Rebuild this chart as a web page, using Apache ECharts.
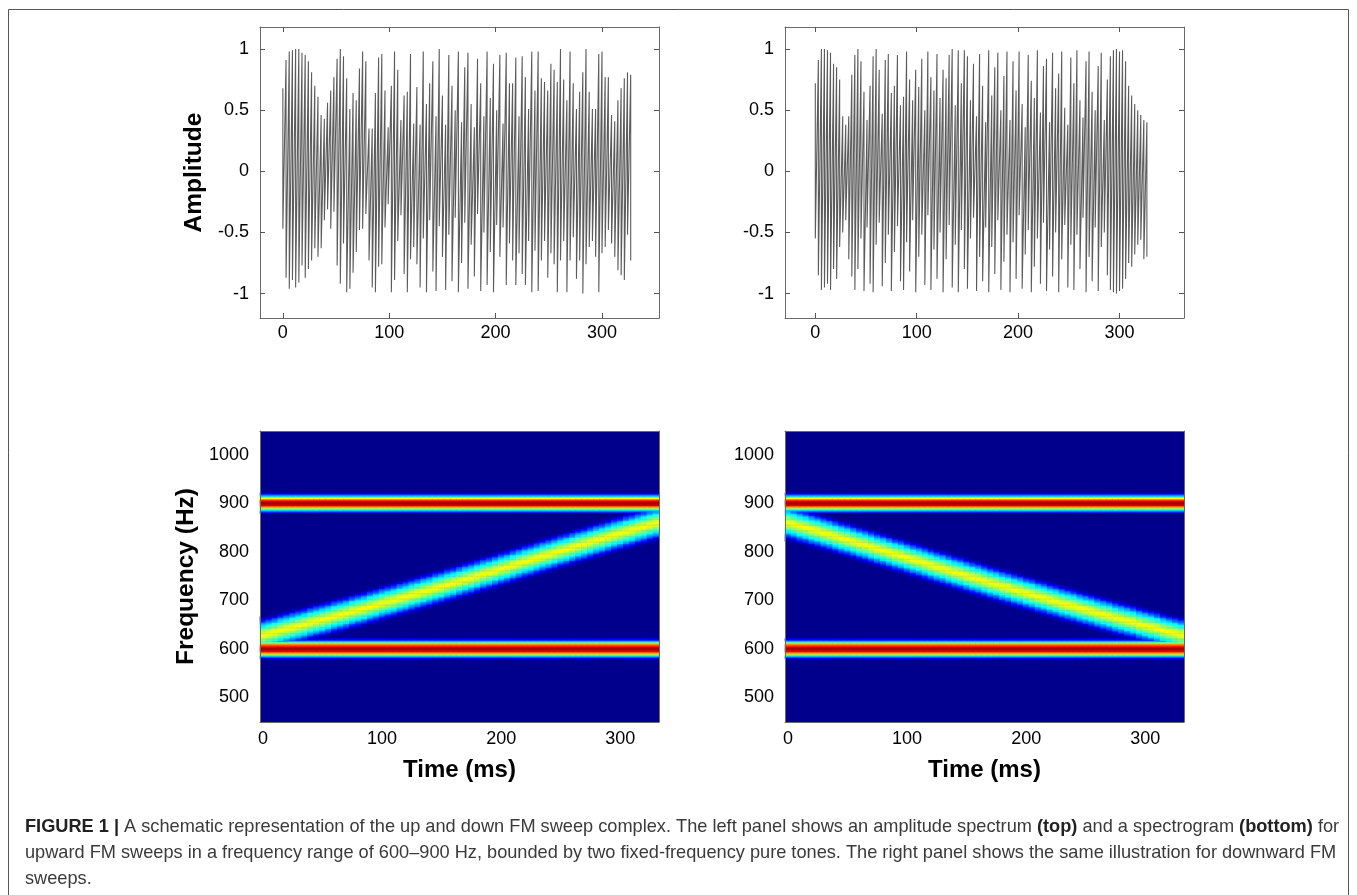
<!DOCTYPE html>
<html>
<head>
<meta charset="utf-8">
<title>FM sweep complex</title>
<script src="https://cdn.jsdelivr.net/npm/echarts@6/dist/echarts.min.js"></script>
<style>
  html, body { margin: 0; padding: 0; background: #fff; }
  #chart { width: 1357px; height: 895px; }
</style>
</head>
<body>
<div id="chart"></div>
<script>
// waveform: sample time (ms) of each swing, then the top and bottom of the swing
const peakTimes = [0,3,6,9,12,15,18,21,24,27,30,33,36,39,42,45,48,51,54,57,60,63,66,69,72,75,78,81,84,87,90,93,96,99,102,105,108,111,114,117,120,123,126,129,132,135,138,141,144,147,150,153,156,159,162,165,168,171,174,177,180,183,186,189,192,195,198,201,204,207,210,213,216,219,222,225,228,231,234,237,240,243,246,249,252,255,258,261,264,267,270,273,276,279,282,285,288,291,294,297,300,303,306,309,312,315,318,321,324,327];

const upTop = [.68,.91,.98,.99,1,1,.97,.95,.90,.81,.70,.61,.46,.43,.56,.66,.77,.92,1,.94,.76,.51,.64,.58,.84,.98,.90,.35,.35,.64,.93,.96,.66,.36,.70,.98,.83,.42,.62,.65,.96,.39,.69,
  .38,.98,.55,.72,.90,.45,1,.62,.38,.95,.70,.50,.98,.40,.85,.97,.55,.36,.92,.72,.45,.98,.60,.88,.50,
  .95,.39,.97,.72,.72,.93,.45,.94,.77,.51,.98,.66,.98,.76,.73,.66,.88,.83,.73,1,.75,.58,.98,.72,.51,.65,.81,1,.65,.51,.51,.96,.98,.77,.77,.46,.41,.58,.68,.76,.81,.79];
const upBottom = [-.47,-.87,-.96,-.89,-.95,-.91,-.77,-.87,-.80,-.73,-.63,-.70,-.63,-.40,-.31,-.47,-.33,-.77,-.92,-.59,-.99,-.96,-.83,-.66,-.48,-.47,-.35,-.73,-.95,-.99,-.78,-.76,-.46,-.27,-.99,-.89,-.57,-.36,-.84,-.99,-.72,-.62,-.76,
  -.95,-.55,-.99,-.40,-.82,-.98,-.45,-.70,-.97,-.52,-.90,-.38,-.99,-.75,-.42,-.96,-.60,-.86,-.35,-.98,-.50,-.93,-.66,-.99,-.44,
  -.70,-.46,-.93,-.59,-.73,-.93,-.67,-.84,-.93,-.57,-.99,-.65,-.98,-.73,-.57,-.87,-.67,-.76,-.99,-.73,-.57,-.99,-.73,-.54,-.88,-.73,-1,-.76,-.62,-.57,-.70,-.99,-.67,-.62,-.48,-.59,-.70,-.81,-.85,-.89,-.52,-.73];

const downTop = [.72,.91,1,1,.99,.97,.88,.85,.75,.45,.38,.45,.79,.95,1,.90,.65,.42,.70,.94,1,.83,.47,.91,.96,.64,.70,.95,.54,.61,.98,.75,.58,.83,.69,.92,.50,.98,.77,.66,.96,.60,.83,.76,.95,1,.54,.99,.72,.99,.94,.58,
  .88,.45,.96,.70,.40,.99,.62,.85,.97,.50,.78,.98,.42,.90,.66,.98,.55,.36,.95,.74,.60,.99,.48,.86,.92,.40,.97,.68,.80,.98,.52,.38,.93,.72,.99,.58,.44,.90,.98,.65,.50,.86,.97,.42,.75,.94,.99,1,.98,.99,.90,.70,.62,.55,.50,.46,.42,.40];
const downBottom = [-.55,-.85,-.97,-.95,-.92,-.97,-.80,-.88,-.62,-.50,-.40,-.72,-.86,-.97,-.80,-.55,-.98,-.46,-.92,-.99,-.60,-.42,-.94,-.75,-.52,-.98,-.66,-.45,-.90,-.97,-.58,-.82,-.40,-.99,-.70,-.52,-.93,-.36,-.97,-.64,-.88,-.50,-.99,-.72,
  -.44,-.95,-.60,-.99,-.48,-.80,-.96,-.55,-.38,-.98,-.70,-.90,-.46,-.99,-.62,-.84,-.40,-.97,-.74,-.52,-.99,-.58,-.88,-.36,-.96,-.68,-.48,-.99,-.78,-.55,-.92,-.42,-.98,-.64,-.86,-.50,-.99,-.72,-.44,-.95,-.60,-.97,-.52,-.80,-.38,-.99,-.70,-.90,-.46,-.98,-.62,-.50,-.85,-.97,-.99,-1,-.98,-.96,-.88,-.75,-.78,-.68,-.60,-.56,-.72,-.70];

// spectrogram: sweep centre (Hz) for each 5 ms column
const sweepUp = [628,631,634,638,641,644,647,650,654,657,660,663,667,670,673,677,680,683,687,690,694,697,700,704,707,711,714,718,721,725,728,732,735,739,743,746,750,754,757,761,765,768,772,776,780,783,787,791,794,798,802,805,809,813,816,820,824,827,831,835,838,842,845,849,852,856,859];
const sweepDown = [860,857,853,850,846,843,839,836,832,828,825,821,817,814,810,806,803,799,795,792,788,784,781,777,773,769,766,762,758,755,751,747,744,740,736,733,729,726,722,719,715,712,708,705,701,698,694,691,688,684,681,678,674,671,668,664,661,658,655,651,648,645,642,638,635,632,629];

// cross sections of the bands: intensity by distance from the centre
const sweepProfile = [.62,.61,.59,.57,.54,.51,.48,.45,.41,.38,.35,.31,.27,.23,.19,.15,.11,.07,.04,.01]; // every 2 Hz
const toneOffsets = [20,17.5,15,12.5,10,7.5,5,2.5,0,-2.5,-5,-7.5,-10,-12.5,-15,-17.5,-20];
const toneHigh = [.08,.2,.33,.48,.62,.76,.88,.93,.97,.94,.90,.72,.55,.44,.33,.2,.10];
const toneLow = [.08,.18,.30,.5,.70,.78,.85,.92,.98,.93,.88,.79,.70,.52,.35,.2,.10];

const jetColors = ['#00008c','#0000ff','#007fff','#00ffff','#7fff7f','#ffff00','#ff7f00','#ff0000','#7f0000'];

const ampTicks = [-1,-0.5,0,0.5,1];
const timeTicks = [0,100,200,300];
const freqTicks = [500,600,700,800,900,1000];

const timeCols = sweepUp.map((_, i) => i * 5);
const freqRows = [];
for (let f = 450; f <= 1047.5; f += 2.5) freqRows.push(f);

function bandLevel(centre, freq) {
  const k = Math.round(Math.abs(freq - centre) / 2);
  return k < sweepProfile.length ? sweepProfile[k] : 0;
}

function toneLevel(tone, centre, freq) {
  const k = toneOffsets.indexOf(freq - centre);
  return k < 0 ? 0 : tone[k];
}

function buildCells(centres) {
  const cells = [];
  timeCols.forEach((t, i) => {
    freqRows.forEach((f, j) => {
      const v = Math.max(bandLevel(centres[i], f), toneLevel(toneHigh, 900, f), toneLevel(toneLow, 600, f));
      if (v > 0) cells.push([i, j, v]);
    });
  });
  return cells;
}

function buildWave(top, bottom) {
  const pts = [];
  peakTimes.forEach((t, i) => {
    pts.push([t, top[i]]);
    pts.push([t, bottom[i]]);
  });
  return pts;
}

const FONT = '"Liberation Sans", Arial, sans-serif';
const frameColor = '#6a6a6a';

const panelLeft = [260, 785];
const grids = [
  { left: panelLeft[0], top: 27, width: 399, height: 291 },
  { left: panelLeft[1], top: 27, width: 399, height: 291 },
  { left: panelLeft[0], top: 431, width: 399, height: 291, show: true, backgroundColor: '#00008c', borderWidth: 0 },
  { left: panelLeft[1], top: 431, width: 399, height: 291, show: true, backgroundColor: '#00008c', borderWidth: 0 }
];

const nameStyle = { fontFamily: FONT, fontSize: 24.5, fontWeight: 'bold', color: '#000' };
const timeNameStyle = { fontFamily: FONT, fontSize: 24, fontWeight: 'bold', color: '#000' };
const tickLabel = { fontFamily: FONT, fontSize: 18, color: '#000' };
const lineCfg = { show: true, onZero: false, lineStyle: { color: frameColor, width: 1 } };

function waveX(grid, min, max, mirror) {
  return {
    type: 'value', gridIndex: grid, min, max, position: mirror ? 'top' : 'bottom', z: 5,
    splitLine: { show: false }, axisLine: lineCfg,
    axisTick: { inside: true, length: 5, lineStyle: { color: '#555' }, customValues: timeTicks },
    axisLabel: mirror ? { show: false } : Object.assign({ customValues: timeTicks, margin: 6 }, tickLabel)
  };
}

function waveY(grid, named, mirror) {
  return {
    type: 'value', gridIndex: grid, min: -1.2, max: 1.18, position: mirror ? 'right' : 'left', z: 5,
    name: named && !mirror ? 'Amplitude' : '', nameLocation: 'middle', nameRotate: 90, nameGap: 53, nameTextStyle: nameStyle,
    splitLine: { show: false }, axisLine: lineCfg,
    axisTick: { inside: true, length: 5, lineStyle: { color: '#555' }, customValues: ampTicks },
    axisLabel: mirror ? { show: false } : Object.assign({ customValues: ampTicks, margin: 11 }, tickLabel)
  };
}

function specX(grid, mirror) {
  const at = (i, v) => timeTicks.includes(+v);
  return {
    type: 'category', gridIndex: grid, data: timeCols.map(String), position: mirror ? 'top' : 'bottom', z: 5,
    name: mirror ? '' : 'Time (ms)', nameLocation: 'middle', nameGap: 36, nameTextStyle: timeNameStyle,
    splitLine: { show: false }, axisLine: lineCfg,
    axisTick: { inside: true, length: 5, alignWithLabel: true, interval: at, lineStyle: { color: '#111' } },
    axisLabel: mirror ? { show: false } : Object.assign({ interval: at, margin: 8 }, tickLabel)
  };
}

function specY(grid, named, mirror) {
  const at = (i, v) => freqTicks.includes(+v);
  return {
    type: 'category', gridIndex: grid, data: freqRows.map(String), position: mirror ? 'right' : 'left', z: 5,
    name: named && !mirror ? 'Frequency (Hz)' : '', nameLocation: 'middle', nameRotate: 90, nameGap: 61, nameTextStyle: nameStyle,
    splitLine: { show: false }, axisLine: lineCfg,
    axisTick: { inside: true, length: 5, alignWithLabel: true, interval: at, lineStyle: { color: '#111' } },
    axisLabel: mirror ? { show: false } : Object.assign({ interval: at, margin: 11 }, tickLabel)
  };
}

const xAxes = [
  waveX(0, -21.5, 353.6), waveX(1, -29.9, 363.6), specX(2), specX(3),
  waveX(0, -21.5, 353.6, true), waveX(1, -29.9, 363.6, true), specX(2, true), specX(3, true)
];
const yAxes = [
  waveY(0, true), waveY(1, false), specY(2, true), specY(3, false),
  waveY(0, false, true), waveY(1, false, true), specY(2, false, true), specY(3, false, true)
];

function waveSeries(i, top, bottom) {
  return {
    type: 'line', xAxisIndex: i, yAxisIndex: i, data: buildWave(top, bottom),
    symbol: 'none', silent: true, animation: false,
    lineStyle: { color: '#5c5c5c', width: 1.1 }
  };
}

function specSeries(i, centres) {
  return {
    type: 'heatmap', xAxisIndex: i, yAxisIndex: i, data: buildCells(centres),
    silent: true, animation: false, progressive: 0
  };
}

// caption, one graphic text per line
const captionRest = [
  'upward FM sweeps in a frequency range of 600–900 Hz, bounded by two fixed-frequency pure tones. The right panel shows the same illustration for downward FM',
  'sweeps.'
];
const captionStyle = { fontFamily: FONT, fontSize: 18.2, fill: '#3a3a3a', verticalAlign: 'middle' };

const option = {
  animation: false,
  backgroundColor: '#fff',
  textStyle: { fontFamily: FONT },
  grid: grids,
  xAxis: xAxes,
  yAxis: yAxes,
  visualMap: {
    show: false, type: 'continuous', seriesIndex: [2, 3], dimension: 2,
    min: 0, max: 1, inRange: { color: jetColors }
  },
  series: [
    waveSeries(0, upTop, upBottom),
    waveSeries(1, downTop, downBottom),
    specSeries(2, sweepUp),
    specSeries(3, sweepDown)
  ],
  graphic: [
    { type: 'rect', silent: true, shape: { x: 8.5, y: 9.5, width: 1340, height: 900 }, style: { fill: 'none', stroke: '#555', lineWidth: 1 } },
    {
      type: 'text', silent: true, x: 25, y: 827,
      style: Object.assign({
        text: '{b|FIGURE 1 |} A schematic representation of the up and down FM sweep complex. The left panel shows an amplitude spectrum {b|(top)} and a spectrogram {b|(bottom)} for',
        rich: { b: { fontFamily: FONT, fontSize: 18.2, fontWeight: 'bold', fill: '#222' } }
      }, captionStyle)
    },
    { type: 'text', silent: true, x: 25, y: 853, style: Object.assign({ text: captionRest[0] }, captionStyle) },
    { type: 'text', silent: true, x: 25, y: 879, style: Object.assign({ text: captionRest[1] }, captionStyle) }
  ]
};

const chart = echarts.init(document.getElementById('chart'), null, { renderer: 'canvas' });
chart.setOption(option);
</script>
</body>
</html>
